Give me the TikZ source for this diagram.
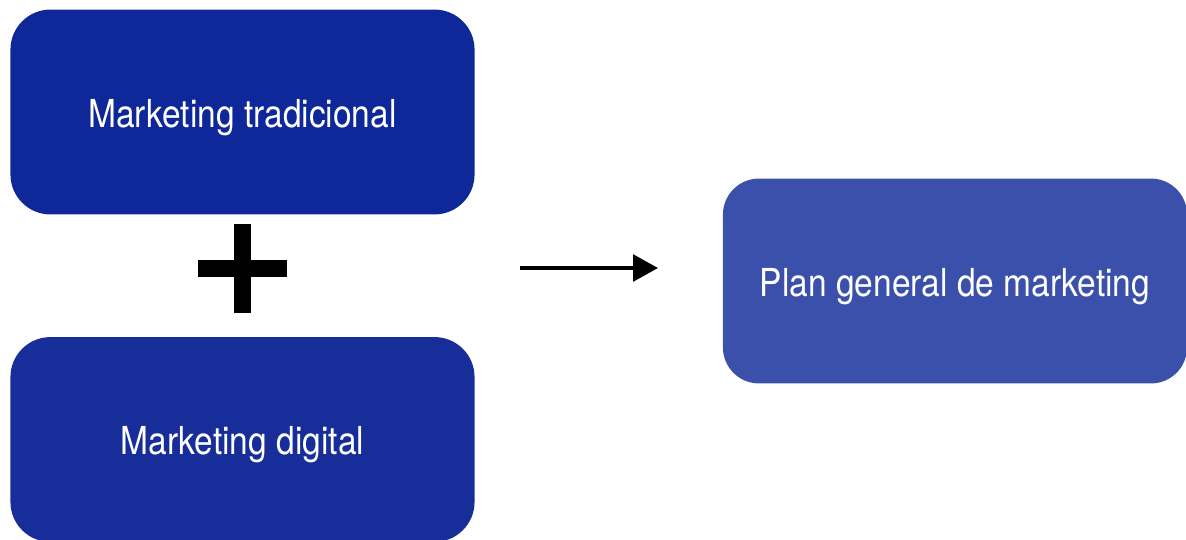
\documentclass[tikz,border=0pt]{standalone}
\usepackage{fontspec}
\setmainfont[FakeStretch=0.87]{TeX Gyre Heros}
\usetikzlibrary{arrows.meta,positioning}
\definecolor{tradblue}{HTML}{0F2899}
\definecolor{digiblue}{HTML}{172E9A}
\definecolor{planblue}{HTML}{3B50AB}
\tikzset{
  mbox/.style={rectangle, rounded corners=1cm, text=white,
    minimum width=11.6cm, minimum height=5.12cm,
    text height=0.75cm, text depth=0pt,
    font=\fontsize{27.4}{32}\selectfont},
  plusbar/.style={line width=0.43cm}
}

\begin{document}
\begin{tikzpicture}[x=0.025cm, y=-0.025cm]
         \useasboundingbox (0,0) rectangle (1186,540);
         \node [mbox, fill=tradblue] (TRAD) at (242.5,112) {Marketing tradicional};
         \node [mbox, fill=digiblue] (DIGI) at (242.5,439.5) {Marketing digital};
         \node [mbox, fill=planblue, rounded corners=0.9cm] (PLAN) at (955,281) {Plan general de marketing};
         \coordinate (PL) at (242.5,268.5);
         \draw [plusbar] ([xshift=-44.5*0.025cm]PL) -- ([xshift=44.5*0.025cm]PL);
         \draw [plusbar] ([yshift=44.5*0.025cm]PL) -- ([yshift=-44.5*0.025cm]PL);
         \coordinate (AL) at (520,268);
         \coordinate (AR) at (658,268);
         \draw [-{Triangle[length=0.62cm,width=0.66cm]}, line width=0.1cm] (AL) -- (AR);
\end{tikzpicture}
\end{document}
